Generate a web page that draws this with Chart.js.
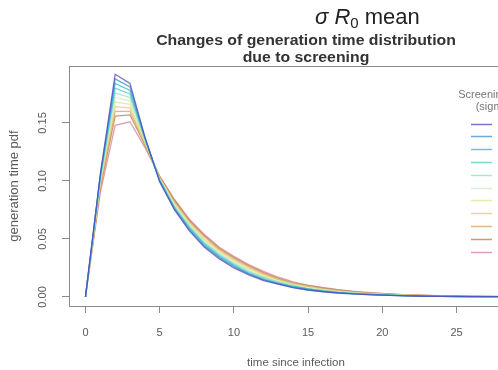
<!DOCTYPE html>
<html>
<head>
<meta charset="utf-8">
<script src="https://cdn.jsdelivr.net/npm/chart.js@4.4.1/dist/chart.umd.min.js"></script>
<style>
  html, body { margin: 0; padding: 0; overflow: hidden; background: #fff; }
  canvas { display: block; }
</style>
</head>
<body>
<canvas id="chart1" width="523" height="370"></canvas>
<script>
// time since infection (days)
const timeSinceInfection = [0, 1, 2, 3, 4, 5, 6, 7, 8, 9, 10, 11, 12, 13, 14, 15, 16, 17, 18, 19, 20, 21, 22, 23, 24, 25, 26, 27, 28];

// generation time pdf for each screening level (sigma), lowest to highest
const pdfS1  = [0, .106, .192, .184, .138, .099, .075, .057, .043, .033, .025, .019, .014, .011, .008, .006, .0045, .0034, .0026, .0020, .0015, .0011, .0008, .0006, .0005, .0004, .0003, .0002, .0002];
const pdfS2  = [0, .105, .188, .181, .138, .100, .076, .058, .044, .034, .026, .020, .015, .011, .008, .006, .0047, .0036, .0027, .0021, .0016, .0012, .0009, .0007, .0005, .0004, .0003, .0002, .0002];
const pdfS3  = [0, .104, .184, .178, .137, .100, .076, .059, .045, .035, .027, .020, .015, .012, .009, .007, .0050, .0038, .0029, .0022, .0017, .0013, .0010, .0007, .0006, .0004, .0003, .0003, .0002];
const pdfS4  = [0, .103, .180, .175, .137, .101, .077, .060, .046, .036, .028, .021, .016, .012, .009, .007, .0053, .0040, .0031, .0024, .0018, .0014, .0010, .0008, .0006, .0005, .0004, .0003, .0002];
const pdfS5  = [0, .102, .176, .172, .136, .101, .078, .061, .047, .037, .029, .022, .017, .013, .010, .007, .0056, .0043, .0033, .0025, .0019, .0015, .0011, .0008, .0006, .0005, .0004, .0003, .0002];
const pdfS6  = [0, .100, .172, .169, .135, .102, .079, .062, .048, .038, .030, .023, .017, .013, .010, .008, .0060, .0046, .0035, .0027, .0021, .0016, .0012, .0009, .0007, .0005, .0004, .0003, .0002];
const pdfS7  = [0, .099, .168, .166, .134, .102, .080, .063, .049, .039, .031, .024, .018, .014, .011, .008, .0064, .0049, .0037, .0029, .0022, .0017, .0013, .0010, .0007, .0006, .0004, .0003, .0003];
const pdfS8  = [0, .097, .164, .163, .133, .103, .081, .064, .050, .040, .032, .025, .019, .015, .011, .009, .0068, .0052, .0040, .0031, .0024, .0018, .0014, .0011, .0008, .0006, .0005, .0004, .0003];
const pdfS9  = [0, .096, .160, .160, .132, .103, .082, .065, .052, .041, .033, .026, .020, .015, .012, .009, .0072, .0056, .0043, .0033, .0026, .0020, .0015, .0012, .0009, .0007, .0005, .0004, .0003];
const pdfS10 = [0, .094, .156, .157, .131, .104, .083, .066, .053, .042, .034, .027, .021, .016, .012, .010, .0077, .0060, .0046, .0036, .0028, .0021, .0016, .0013, .0010, .0007, .0006, .0004, .0003];
const pdfS11 = [0, .090, .148, .151, .129, .104, .084, .067, .054, .043, .035, .028, .022, .017, .013, .010, .0082, .0064, .0050, .0039, .0030, .0023, .0018, .0014, .0011, .0008, .0006, .0005, .0004];

const xTicks = [0, 5, 10, 15, 20, 25];
const yTicks = [0, 0.05, 0.10, 0.15];

const seriesColors = [
  "rgba(80,70,190,0.75)", "rgba(60,140,210,0.75)", "rgba(40,180,205,0.75)", "rgba(80,200,190,0.75)",
  "rgba(150,220,190,0.75)", "rgba(205,235,200,0.75)", "rgba(220,230,150,0.75)", "rgba(230,200,110,0.75)",
  "rgba(215,160,90,0.75)", "rgba(190,120,70,0.75)", "rgba(205,120,150,0.7)"
];

const allSeries = [pdfS1, pdfS2, pdfS3, pdfS4, pdfS5, pdfS6, pdfS7, pdfS8, pdfS9, pdfS10, pdfS11];

const datasets = allSeries.map((vals, i) => ({
  data: vals.map((v, j) => ({ x: timeSinceInfection[j], y: v })),
  borderColor: seriesColors[i],
  borderWidth: 1.3,
  pointRadius: 0,
  fill: false,
  tension: 0
}));

const gray = "#8a8a8a";
const textGray = "#5a5a5a";
const family = "'Liberation Sans', Arial, sans-serif";

const decorations = {
  id: "decorations",
  afterDraw(chart) {
    const c = chart.ctx;
    const a = chart.chartArea;
    c.save();
    // top of the box
    c.strokeStyle = gray;
    c.lineWidth = 1;
    c.beginPath();
    c.moveTo(a.left, a.top + 0.5);
    c.lineTo(a.right, a.top + 0.5);
    c.stroke();

    // overlaid heading
    c.fillStyle = "#222";
    c.textBaseline = "alphabetic";
    let x = 315;
    const base = 24;
    c.font = "italic 22px " + family;
    c.fillText("σ ", x, base); x += c.measureText("σ ").width;
    c.fillText("R", x, base); x += c.measureText("R").width;
    c.font = "15px " + family;
    c.fillText("0", x, base + 4); x += c.measureText("0").width;
    c.font = "22px " + family;
    c.fillText(" mean", x, base);

    // main title (slightly widened like the reference)
    c.fillStyle = "#333";
    c.textAlign = "center";
    c.textBaseline = "middle";
    c.font = "bold 14px " + family;
    c.save();
    c.translate(306, 0);
    c.scale(1.13, 1);
    c.fillText("Changes of generation time distribution", 0, 41);
    c.fillText("due to screening", 0, 58);
    c.restore();

    // legend
    c.fillStyle = "#777";
    c.font = "11px " + family;
    c.fillText("Screening rate", 494, 95);
    c.fillText("(sigma)", 494, 107);
    chart.data.datasets.forEach((ds, i) => {
      const y = Math.round(123.5 + i * 12.8) + 0.5;
      c.strokeStyle = ds.borderColor;
      c.lineWidth = 1.5;
      c.beginPath();
      c.moveTo(471, y);
      c.lineTo(492, y);
      c.stroke();
    });
    c.restore();
  }
};

new Chart(document.getElementById("chart1"), {
  type: "line",
  data: { datasets: datasets },
  options: {
    responsive: false,
    animation: false,
    events: [],
    layout: { padding: { top: 66, left: 0, right: 0, bottom: 0 } },
    plugins: { legend: { display: false }, title: { display: false }, tooltip: { enabled: false } },
    scales: {
      x: {
        type: "linear",
        min: -1.11,
        max: 29.48,
        afterFit: s => { s.height = 64; },
        afterBuildTicks: s => { s.ticks = xTicks.map(v => ({ value: v })); },
        grid: { drawOnChartArea: false, tickLength: 7, color: gray },
        border: { color: gray },
        ticks: { padding: 13, color: textGray, font: { size: 11, family: family }, maxRotation: 0 },
        title: { display: true, text: "time since infection", color: textGray, padding: { top: 1, bottom: 0 },
                 font: { size: 11.5, family: family } }
      },
      y: {
        type: "linear",
        min: -0.0078,
        max: 0.1991,
        afterFit: s => { s.width = 69; },
        afterBuildTicks: s => { s.ticks = yTicks.map(v => ({ value: v })); },
        grid: { drawOnChartArea: false, tickLength: 7, color: gray },
        border: { color: gray },
        ticks: { minRotation: 90, maxRotation: 90, crossAlign: "center", padding: 8, color: textGray,
                 font: { size: 11, family: family },
                 callback: v => v.toFixed(2) },
        title: { display: true, text: "generation time pdf", color: textGray, padding: { top: 7, bottom: 0 },
                 font: { size: 13, family: family } }
      }
    }
  },
  plugins: [decorations]
});
</script>
</body>
</html>
